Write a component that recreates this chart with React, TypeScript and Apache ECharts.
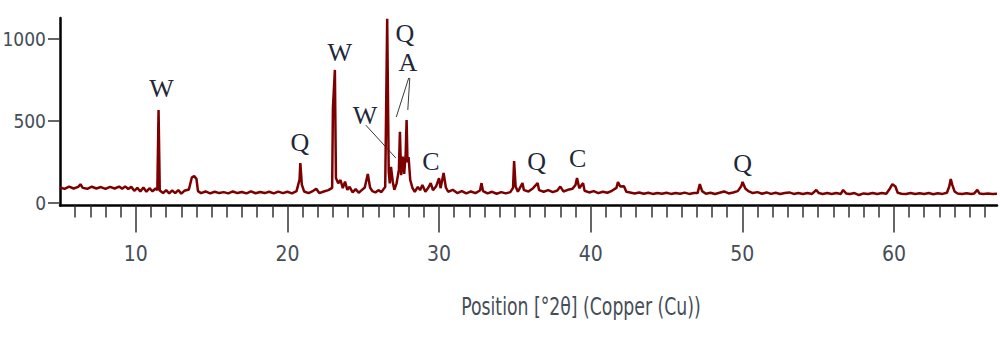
import { useEffect, useRef } from "react";
import * as echarts from "echarts";

// Diffraction scan, split by 2θ range: [2θ (deg), counts]
const scan05to14: [number, number][] = [
  [5.0, 92], [5.3, 84], [5.6, 98], [5.9, 86], [6.2, 96], [6.35, 112], [6.5, 90], [6.8, 84],
  [7.1, 97], [7.4, 86], [7.7, 95], [8.0, 84], [8.3, 96], [8.6, 86], [8.9, 98], [9.1, 84],
  [9.3, 99], [9.5, 83], [9.7, 96], [9.9, 72], [10.1, 90], [10.3, 68], [10.5, 92], [10.7, 66],
  [10.9, 88], [11.1, 68], [11.3, 86], [11.42, 76], [11.5, 567], [11.58, 74], [11.8, 58],
  [12.0, 76], [12.2, 56], [12.4, 74], [12.6, 58], [12.8, 76], [13.0, 55], [13.2, 72],
  [13.5, 80], [13.7, 155], [13.85, 162], [14.0, 145], [14.1, 70],
];

const scan14to20: [number, number][] = [
  [14.3, 58], [14.6, 68], [14.9, 56], [15.2, 66], [15.5, 58], [15.8, 64], [16.1, 56],
  [16.4, 68], [16.7, 58], [17.0, 65], [17.3, 56], [17.6, 68], [17.9, 57], [18.2, 65],
  [18.5, 58], [18.8, 66], [19.1, 56], [19.4, 67], [19.7, 58], [20.0, 66], [20.3, 56],
  [20.6, 70], [20.8, 140], [20.85, 242], [20.95, 110],
];

const scan21to31: [number, number][] = [
  [21.1, 68], [21.4, 58], [21.7, 72], [21.9, 84], [22.1, 58], [22.4, 68], [22.7, 76],
  [22.95, 90], [23.0, 579], [23.13, 812], [23.2, 150], [23.35, 118], [23.5, 138], [23.65, 88],
  [23.8, 128], [23.95, 78], [24.1, 96], [24.3, 62], [24.5, 82], [24.7, 60], [24.9, 76],
  [25.1, 92], [25.3, 175], [25.45, 92], [25.6, 70], [25.8, 62], [26.0, 76], [26.2, 64],
  [26.45, 96], [26.58, 1125], [26.68, 190], [26.75, 118], [26.83, 219], [26.95, 126],
  [27.05, 78], [27.2, 118], [27.35, 200], [27.42, 434], [27.5, 168], [27.6, 281],
  [27.7, 176], [27.8, 300], [27.86, 505], [27.92, 246], [27.99, 279], [28.1, 138],
  [28.25, 88], [28.4, 66], [28.6, 96], [28.75, 76], [28.9, 108], [29.1, 66], [29.3, 92],
  [29.45, 119], [29.6, 76], [29.8, 98], [30.0, 150], [30.1, 88], [30.3, 181], [30.45, 92],
  [30.6, 66], [30.9, 78],
];

const scan31to45: [number, number][] = [
  [31.2, 58], [31.5, 70], [31.8, 56], [32.1, 68], [32.4, 58], [32.7, 74], [32.8, 119],
  [32.9, 70], [33.2, 56], [33.5, 66], [33.8, 54], [34.1, 64], [34.4, 56], [34.7, 64],
  [34.88, 90], [34.95, 254], [35.05, 98], [35.2, 66], [35.5, 119], [35.6, 76], [35.9, 68],
  [36.2, 88], [36.5, 119], [36.6, 76], [36.9, 66], [37.2, 76], [37.5, 64], [37.8, 74],
  [38.0, 98], [38.2, 68], [38.5, 78], [38.8, 84], [39.0, 108], [39.1, 150], [39.25, 88],
  [39.5, 119], [39.6, 72], [39.9, 62], [40.2, 70], [40.5, 58], [40.8, 66], [41.1, 60],
  [41.4, 72], [41.7, 90], [41.8, 126], [41.95, 98], [42.2, 100], [42.35, 66], [42.6, 62],
  [42.9, 56], [43.2, 62], [43.5, 54], [43.8, 60], [44.1, 53], [44.4, 59], [44.7, 54],
];

const scan45to67: [number, number][] = [
  [45.0, 60], [45.3, 53], [45.6, 59], [45.9, 54], [46.2, 61], [46.5, 53], [46.8, 59],
  [47.05, 58], [47.2, 113], [47.35, 70], [47.6, 54], [47.9, 60], [48.2, 52], [48.5, 60],
  [48.8, 68], [49.1, 56], [49.4, 62], [49.7, 70], [49.92, 98], [50.02, 126], [50.2, 86],
  [50.4, 70], [50.7, 58], [51.0, 64], [51.3, 54], [51.6, 62], [51.9, 53], [52.2, 60],
  [52.5, 52], [52.8, 58], [53.1, 62], [53.4, 53], [53.7, 58], [54.0, 52], [54.3, 58],
  [54.6, 53], [54.88, 77], [55.05, 58], [55.3, 53], [55.6, 58], [55.9, 52], [56.2, 58],
  [56.5, 53], [56.65, 77], [56.85, 56], [57.1, 52], [57.4, 58], [57.7, 46], [58.0, 56],
  [58.3, 52], [58.6, 58], [58.9, 52], [59.2, 58], [59.5, 54], [59.75, 88], [59.9, 113],
  [60.1, 98], [60.25, 60], [60.5, 54], [60.8, 52], [61.1, 58], [61.4, 52], [61.7, 57],
  [62.0, 52], [62.3, 58], [62.6, 51], [62.9, 57], [63.2, 53], [63.5, 60], [63.65, 98],
  [63.75, 144], [63.85, 108], [64.0, 68], [64.2, 55], [64.5, 52], [64.8, 57], [65.1, 52],
  [65.3, 56], [65.5, 78], [65.65, 55], [65.9, 52], [66.2, 55], [66.5, 52], [66.8, 54],
];

const xMajorTicks = [10, 20, 30, 40, 50, 60];
const xMinorTicks = [
  6, 7, 8, 9, 11, 12, 13, 14, 15, 16, 17, 18, 19, 21, 22, 23, 24, 25, 26, 27, 28, 29,
  31, 32, 33, 34, 35, 36, 37, 38, 39, 41, 42, 43, 44, 45, 46, 47, 48, 49, 51, 52, 53,
  54, 55, 56, 57, 58, 59, 61, 62, 63, 64, 65, 66,
];
const yTicks = [0, 500, 1000];
const xTitle = "Position [°2θ] (Copper (Cu))";

// Phase identification labels (W, Q, A, C) anchored in data space [2θ, counts]
const phaseLabels: { phase: string; at: [number, number] }[] = [
  { phase: "W", at: [11.7, 701] },
  { phase: "Q", at: [20.82, 365] },
  { phase: "W", at: [23.46, 916] },
  { phase: "W", at: [25.11, 536] },
  { phase: "Q", at: [27.74, 1038] },
  { phase: "A", at: [27.94, 855] },
  { phase: "C", at: [29.46, 250] },
  { phase: "Q", at: [36.44, 254] },
  { phase: "C", at: [39.15, 267] },
  { phase: "Q", at: [50.02, 242] },
];
const leaderLines: [[number, number], [number, number]][] = [
  [[25.17, 474], [27.15, 273]],
  [[28.0, 763], [27.18, 524]],
  [[28.07, 763], [27.94, 567]],
];

const AXIS_FONT = "'Liberation Sans Narrow', 'DejaVu Sans Condensed', 'Liberation Sans', sans-serif";
const TEXT_COLOR = "#454d57";

export default function App() {
  const ref = useRef<HTMLDivElement>(null);

  useEffect(() => {
    document.body.style.margin = "0";
    const chart = echarts.init(ref.current!, null, { renderer: "svg" });
    const data = [...scan05to14, ...scan14to20, ...scan21to31, ...scan31to45, ...scan45to67];

    chart.setOption({
      animation: false,
      grid: { left: 60, right: 3, top: 18, height: 187.5, outerBoundsMode: "none", containLabel: false },
      xAxis: [
        {
          type: "value",
          min: 5,
          max: 66.8,
          position: "bottom",
          axisLine: { show: true, onZero: false, lineStyle: { color: "#000", width: 2.5 } },
          axisTick: {
            show: true,
            customValues: xMajorTicks,
            length: 27,
            lineStyle: { color: "#333", width: 1.5 },
          },
          axisLabel: {
            customValues: xMajorTicks,
            margin: 38,
            fontFamily: AXIS_FONT,
            fontSize: 21,
            color: TEXT_COLOR,
            formatter: (v: number) => String(v),
          },
          splitLine: { show: false },
        },
        {
          type: "value",
          min: 5,
          max: 66.8,
          position: "bottom",
          axisLine: { show: false, onZero: false },
          axisTick: {
            show: true,
            customValues: xMinorTicks,
            length: 12,
            lineStyle: { color: "#333", width: 1.5 },
          },
          axisLabel: { show: false },
          splitLine: { show: false },
        },
      ],
      yAxis: {
        type: "value",
        min: -18,
        max: 1130,
        axisLine: { show: true, onZero: false, lineStyle: { color: "#000", width: 2.5 } },
        axisTick: {
          show: true,
          customValues: yTicks,
          length: 12,
          lineStyle: { color: "#333", width: 1.5 },
        },
        axisLabel: {
          customValues: yTicks,
          margin: 14,
          fontFamily: AXIS_FONT,
          fontSize: 19,
          color: TEXT_COLOR,
          formatter: (v: number) => String(v),
        },
        splitLine: { show: false },
      },
      series: [
        {
          type: "line",
          xAxisIndex: 0,
          yAxisIndex: 0,
          data,
          showSymbol: false,
          symbol: "none",
          lineStyle: { color: "#7d0000", width: 2.5 },
          clip: true,
        },
      ],
    });

    const toPx = (p: [number, number]) =>
      chart.convertToPixel({ xAxisIndex: 0, yAxisIndex: 0 }, p) as number[];

    const graphic: any[] = [];
    phaseLabels.forEach((l) => {
      const [x, y] = toPx(l.at);
      graphic.push({
        type: "text",
        x,
        y,
        style: {
          text: l.phase,
          fontFamily: "'Liberation Serif', 'DejaVu Serif', serif",
          fontSize: 26,
          fill: "#1e2838",
          align: "center",
          verticalAlign: "middle",
        },
      });
    });
    leaderLines.forEach(([a, b]) => {
      const [x1, y1] = toPx(a);
      const [x2, y2] = toPx(b);
      graphic.push({
        type: "line",
        shape: { x1, y1, x2, y2 },
        style: { stroke: "#3a3a3a", lineWidth: 1 },
      });
    });
    graphic.push({
      type: "text",
      x: 581,
      y: 307,
      scaleX: 0.8,
      style: {
        text: xTitle,
        fontFamily: AXIS_FONT,
        fontSize: 24,
        fill: TEXT_COLOR,
        align: "center",
        verticalAlign: "middle",
      },
    });
    chart.setOption({ graphic });

    return () => chart.dispose();
  }, []);

  return <div ref={ref} style={{ width: 1000, height: 344 }} />;
}
